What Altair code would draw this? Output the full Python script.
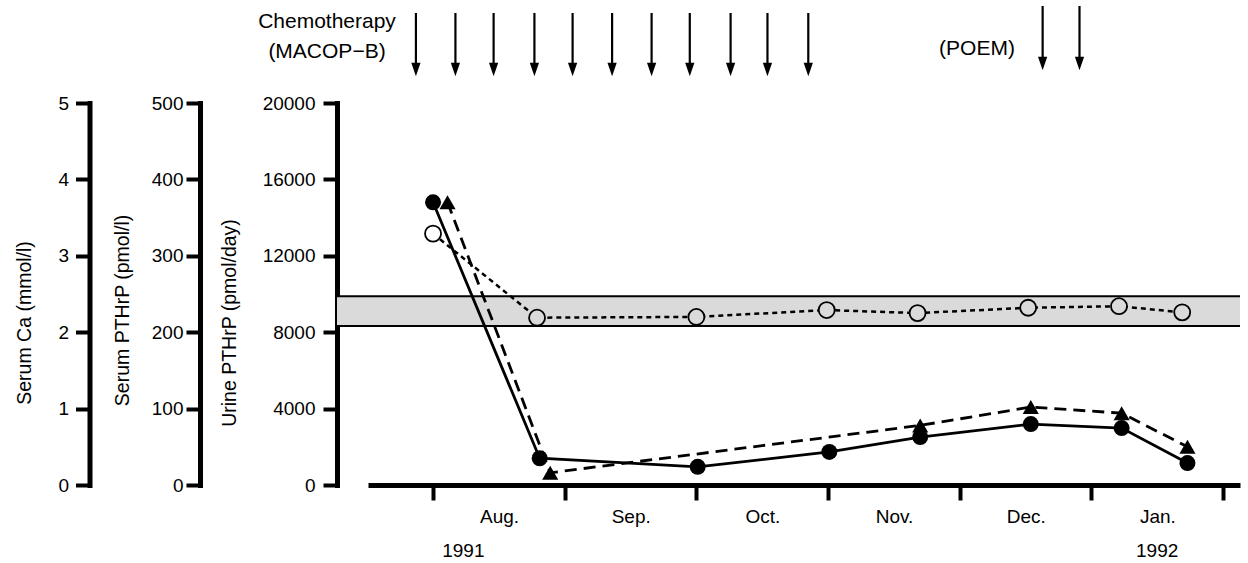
import json
import altair as alt
import pandas as pd

# ---------------- data ----------------
month_names = ["Aug.", "Sep.", "Oct.", "Nov.", "Dec.", "Jan."]
month_ticks = [0, 1, 2, 3, 4, 5, 6]          # month boundaries (0 = 1 Aug 1991)
year_labels = ["1991", "1992"]
year_pos = [0.23, 5.5]

# Urine PTHrP (pmol/day) - filled circles, solid line
urine_month = [0.0, 0.81, 2.01, 3.01, 3.70, 4.54, 5.23, 5.73]
urine_pthrp = [14800, 1400, 950, 1730, 2510, 3190, 2980, 1150]

# Serum PTHrP (pmol/l) - filled triangles, dashed line
serum_month = [0.11, 0.89, 3.70, 4.54, 5.23, 5.73]
serum_pthrp = [370, 16, 78, 102, 94, 50]

# Serum Ca (mmol/l) - open circles, short-dashed line
ca_month = [0.0, 0.79, 2.0, 2.99, 3.68, 4.52, 5.21, 5.69]
serum_ca = [3.29, 2.19, 2.2, 2.29, 2.25, 2.32, 2.34, 2.26]

ca_normal = [2.08, 2.47]

ca_ticks = [0, 1, 2, 3, 4, 5]
serum_ticks = [0, 100, 200, 300, 400, 500]
urine_ticks = [0, 4000, 8000, 12000, 16000, 20000]

chemo_month = [-0.13, 0.17, 0.46, 0.77, 1.06, 1.36, 1.66, 1.95, 2.26, 2.54, 2.85]
poem_month = [4.63, 4.91]
chemo_label = ["Chemotherapy", "(MACOP\u2212B)"]
poem_label = "(POEM)"

# ---------------- styling ----------------
W, H = 872, 382
FONT = "Liberation Sans"
BAND = "#dadada"
HEAD = "M-0.69,-1L0.69,-1L0,1Z"

xscale = alt.Scale(domain=[-0.494, 6.129], nice=False, zero=False)
label_expr = f"datum.value < {len(month_names)} ? {json.dumps(month_names)}[datum.value] : ''"
xaxis = alt.Axis(values=month_ticks, labelExpr=label_expr, labelOffset=66,
                 labelFlush=False, labelOverlap=False, title=None, grid=False,
                 domainWidth=5, domainColor="black", tickWidth=4, tickColor="black",
                 tickSize=15, labelPadding=7, labelFontSize=19, labelFont=FONT,
                 labelColor="black")


def X(field):
    return alt.X(f"{field}:Q", scale=xscale, axis=xaxis)


def yaxis(title, ticks, offset, title_x, title_y, pad):
    return alt.Axis(orient="left", offset=offset, values=ticks, format="d",
                    title=title, titleX=title_x, titleY=title_y, titleAngle=270,
                    titleAlign="center", titleBaseline="alphabetic", titleFont=FONT,
                    titleFontSize=19.5, titleFontWeight="normal", titleColor="black",
                    labelFont=FONT, labelFontSize=19, labelColor="black",
                    labelPadding=pad, grid=False, domainWidth=5, domainColor="black",
                    domainCap="square", tickWidth=4, tickColor="black", tickSize=12,
                    tickCap="square")


ca_scale = alt.Scale(domain=[0, 5], nice=False)
ser_scale = alt.Scale(domain=[0, 500], nice=False)
uri_scale = alt.Scale(domain=[0, 20000], nice=False)

ca_axis = yaxis("Serum Ca (mmol/l)", ca_ticks, 278.5, -59, 219.5, 9)
ser_axis = yaxis("Serum PTHrP (pmol/l)", serum_ticks, 168, -72, 207, 5)
uri_axis = yaxis("Urine PTHrP (pmol/day)", urine_ticks, 31, -102, 219.5, 10)

urine_df = pd.DataFrame({"t": urine_month, "v": urine_pthrp})
serum_df = pd.DataFrame({"t": serum_month, "v": serum_pthrp})
ca_df = pd.DataFrame({"t": ca_month, "v": serum_ca})

band = alt.Chart(pd.DataFrame({"lo": [ca_normal[0]], "hi": [ca_normal[1]]})).mark_rect(
    color=BAND).encode(
    x=alt.value(-31), x2=alt.value(W),
    y=alt.Y("lo:Q", scale=ca_scale, axis=ca_axis), y2="hi:Q")

edges = alt.Chart(pd.DataFrame({"v": ca_normal})).mark_rule(
    color="black", strokeWidth=2).encode(
    x=alt.value(-31), x2=alt.value(W),
    y=alt.Y("v:Q", scale=ca_scale, axis=None))

ca_line = alt.Chart(ca_df).mark_line(color="black", strokeWidth=2.5, strokeDash=[5, 4]).encode(
    x=X("t"), y=alt.Y("v:Q", scale=ca_scale, axis=None))
ser_line = alt.Chart(serum_df).mark_line(color="black", strokeWidth=2.8, strokeDash=[12, 7]).encode(
    x=X("t"), y=alt.Y("v:Q", scale=ser_scale, axis=ser_axis))
uri_line = alt.Chart(urine_df).mark_line(color="black", strokeWidth=2.8).encode(
    x=X("t"), y=alt.Y("v:Q", scale=uri_scale, axis=uri_axis))

ca_pts = alt.Chart(ca_df).mark_point(shape="circle", size=256, strokeWidth=1.8,
                                     stroke="black", filled=True, opacity=1).encode(
    x=X("t"), y=alt.Y("v:Q", scale=ca_scale, axis=None),
    fill=alt.condition(f"datum.v > {ca_normal[1]}", alt.value("white"), alt.value(BAND)))
ser_pts = alt.Chart(serum_df).mark_point(shape="triangle-up", size=260, filled=True,
                                         color="black", opacity=1).encode(
    x=X("t"), y=alt.Y("v:Q", scale=ser_scale, axis=None))
uri_pts = alt.Chart(urine_df).mark_point(shape="circle", size=256, filled=True,
                                         color="black", opacity=1).encode(
    x=X("t"), y=alt.Y("v:Q", scale=uri_scale, axis=None))

chemo_df = pd.DataFrame({"t": chemo_month})
poem_df = pd.DataFrame({"t": poem_month})
chemo_rules = alt.Chart(chemo_df).mark_rule(color="black", strokeWidth=2.2).encode(
    x=X("t"), y=alt.value(-90), y2=alt.value(-38))
chemo_heads = alt.Chart(chemo_df).mark_point(shape=HEAD, size=180, filled=True,
                                             color="black", opacity=1).encode(
    x=X("t"), y=alt.value(-33.5))
poem_rules = alt.Chart(poem_df).mark_rule(color="black", strokeWidth=2.2).encode(
    x=X("t"), y=alt.value(-97), y2=alt.value(-44))
poem_heads = alt.Chart(poem_df).mark_point(shape=HEAD, size=180, filled=True,
                                           color="black", opacity=1).encode(
    x=X("t"), y=alt.value(-39.5))

chemo_text = alt.Chart(pd.DataFrame({"k": [0]})).mark_text(
    text=chemo_label, font=FONT, fontSize=21, align="center", baseline="alphabetic",
    lineHeight=30, color="black").encode(x=alt.value(-41), y=alt.value(-75))
poem_text = alt.Chart(pd.DataFrame({"k": [0]})).mark_text(
    text=poem_label, font=FONT, fontSize=21, align="center", baseline="alphabetic",
    color="black").encode(x=alt.value(609), y=alt.value(-48))

year_text = alt.Chart(pd.DataFrame({"t": year_pos, "s": year_labels})).mark_text(
    font=FONT, fontSize=19, align="center", baseline="alphabetic", color="black").encode(
    x=X("t"), y=alt.value(454), text="s:N")

chart = alt.layer(
    band, edges, ca_line, ser_line, uri_line, ca_pts, ser_pts, uri_pts,
    chemo_rules, chemo_heads, poem_rules, poem_heads, chemo_text, poem_text, year_text
).resolve_scale(y="independent").properties(
    width=W, height=H,
    autosize=alt.AutoSizeParams(type="none"),
    padding={"left": 368, "top": 103, "right": 8, "bottom": 78},
    background="white",
).configure(font=FONT).configure_view(stroke=None, strokeWidth=0)

chart.save("out.html", embed_options={"renderer": "svg", "actions": False})
